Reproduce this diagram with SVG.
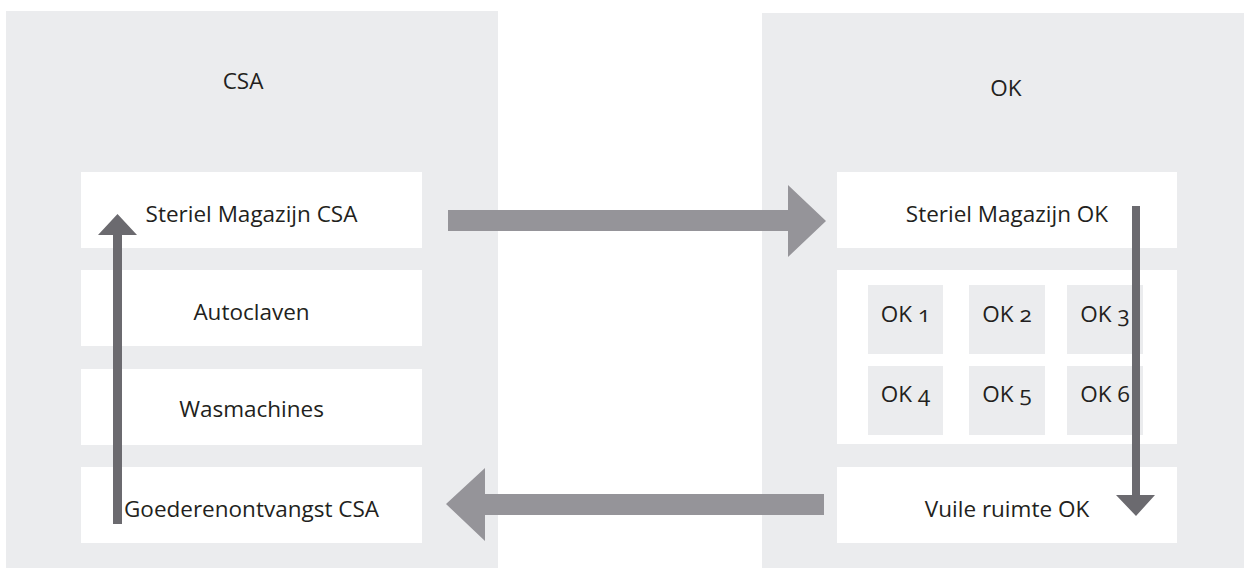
<svg xmlns="http://www.w3.org/2000/svg" width="1244" height="568" viewBox="0 0 1244 568">
<style>
.panel{fill:#ebecee}
.box{fill:#ffffff}
.sub{fill:#ebecee}
text{font-family:"Open Sans","Liberation Sans",sans-serif;font-size:22.5px;fill:#231f20;text-anchor:middle;font-variant-numeric:oldstyle-nums}
.light{fill:#959499}
.dark{fill:#6b6a6f}
</style>
<rect width="1244" height="568" fill="#ffffff"/>
<g id="panel-csa">
<rect class="panel" x="6" y="11" width="492" height="557"/>
<text x="243" y="89">CSA</text>
</g>
<g id="panel-ok">
<rect class="panel" x="762" y="13" width="482" height="555"/>
<text x="1006" y="96">OK</text>
</g>
<g id="steriel-csa"><rect class="box" x="81" y="172" width="341" height="76"/><text x="251.5" y="222">Steriel Magazijn CSA</text></g>
<g id="autoclaven"><rect class="box" x="81" y="270" width="341" height="76"/><text x="251.5" y="320">Autoclaven</text></g>
<g id="wasmachines"><rect class="box" x="81" y="369" width="341" height="76"/><text x="251.5" y="417">Wasmachines</text></g>
<g id="goederen-csa"><rect class="box" x="81" y="467" width="341" height="76"/><text x="251.5" y="517">Goederenontvangst CSA</text></g>
<g id="steriel-ok"><rect class="box" x="837" y="172" width="340" height="76"/><text x="1007" y="222">Steriel Magazijn OK</text></g>
<g id="ok-zalen">
<rect class="box" x="837" y="270" width="340" height="174"/>
<g id="ok1"><rect class="sub" x="868" y="285" width="75" height="69"/><text x="905.5" y="322">OK 1</text></g>
<g id="ok2"><rect class="sub" x="969" y="285" width="76" height="69"/><text x="1007" y="322">OK 2</text></g>
<g id="ok3"><rect class="sub" x="1067" y="285" width="76" height="69"/><text x="1105" y="322">OK 3</text></g>
<g id="ok4"><rect class="sub" x="868" y="366" width="75" height="69"/><text x="905.5" y="402">OK 4</text></g>
<g id="ok5"><rect class="sub" x="969" y="366" width="76" height="69"/><text x="1007" y="402">OK 5</text></g>
<g id="ok6"><rect class="sub" x="1067" y="366" width="76" height="69"/><text x="1105" y="402">OK 6</text></g>
</g>
<g id="vuile-ok"><rect class="box" x="837" y="467" width="340" height="76"/><text x="1007" y="517">Vuile ruimte OK</text></g>
<g id="connectors">
<polygon class="light" points="448,210 788,210 788,185 826,221 788,257 788,231 448,231"/>
<polygon class="light" points="824,494 485,494 485,468 446,504 485,541 485,515 824,515"/>
<polygon class="dark" points="113,524 113,235 98,235 117.5,214 137,235 122,235 122,524"/>
<polygon class="dark" points="1132,206 1140,206 1140,495 1155,495 1136,516 1116,495 1132,495"/>
</g>
</svg>
